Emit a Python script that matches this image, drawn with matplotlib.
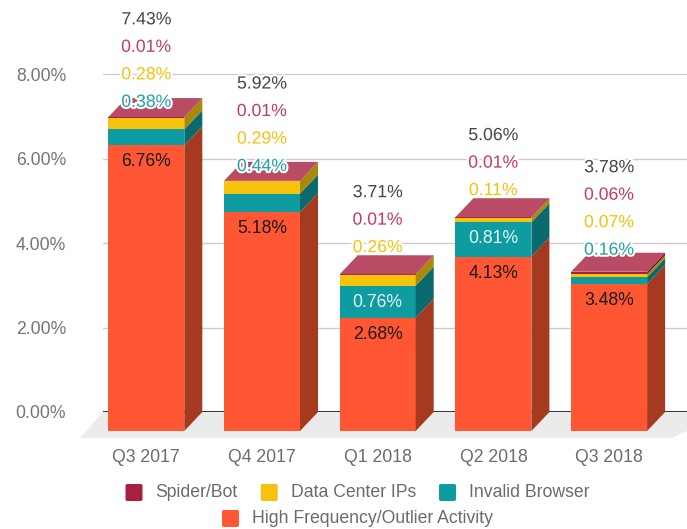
import matplotlib
matplotlib.use("Agg")
import matplotlib.pyplot as plt
from matplotlib.patches import Polygon, Rectangle, FancyBboxPatch
import matplotlib.patheffects as pe

# ---- data -------------------------------------------------------------
quarters = ["Q3 2017", "Q4 2017", "Q1 2018", "Q2 2018", "Q3 2018"]
high_frequency = [6.76, 5.18, 2.68, 4.13, 3.48]
invalid_browser = [0.38, 0.44, 0.76, 0.81, 0.16]
data_center_ips = [0.28, 0.29, 0.26, 0.11, 0.07]
spider_bot = [0.01, 0.01, 0.01, 0.01, 0.06]
totals = [7.43, 5.92, 3.71, 5.06, 3.78]
y_ticks = [0, 2, 4, 6, 8]

series_names = ["Spider/Bot", "Data Center IPs", "Invalid Browser",
                "High Frequency/Outlier Activity"]

# ---- style -----------------------------------------------------------
FONT = "Liberation Sans"
FS = 12.7
plt.rcParams["font.family"] = [FONT, "DejaVu Sans"]

# (front, side, outside-label, inside-label) colours, bottom to top of stack
stack = [
    (high_frequency, "#ff5733", "#a53a20", "#1a1a1a", "#1a1a1a"),
    (invalid_browser, "#0f9ca0", "#0b6a6d", "#1ea2a6", "#e6f4f4"),
    (data_center_ips, "#f6c40c", "#a88a06", "#f4c20d", "#1a1a1a"),
    (spider_bot, "#a91d3e", "#74142b", "#c23b5d", "#ffffff"),
]
legend_colors = ["#a91f40", "#f4c30e", "#0e9ca0", "#ff5733"]
TOP_FACE = "#b94c64"

W, H = 687, 529
fig = plt.figure(figsize=(W / 100, H / 100), dpi=100)

# plot area in pixels
left_px, right_px, top_px, zero_px = 103, 687, 70, 412
px_per_pct = 42.25
first_px, step_px = 146.3, 115.7

ax = fig.add_axes([left_px / W, (H - zero_px) / H,
                   (right_px - left_px) / W, (zero_px - top_px) / H])
ax.set_xlim((left_px - first_px) / step_px, (right_px - first_px) / step_px)
ax.set_ylim(0, (zero_px - top_px) / px_per_pct)
for s in ax.spines.values():
    s.set_visible(False)

# pixel sizes in data units, taken from the axes transform
p0 = ax.transData.transform((0, 0))
p1 = ax.transData.transform((1, 1))
sx, sy = p1[0] - p0[0], p1[1] - p0[1]

bar_w = 76 / sx
depth_x = 18 / sx
depth_y = 19 / sy

# grid and ticks
ax.set_yticks(y_ticks)
ax.set_yticklabels([f"{t:.2f}%" for t in y_ticks])
ax.tick_params(axis="y", length=0, pad=26.6, labelsize=FS, labelcolor="#757575")
for lbl in ax.get_yticklabels():
    lbl.set_fontfamily(FONT)
ax.set_xticks([])
ax.yaxis.grid(True, color="#cccccc", linewidth=1.0, zorder=0)
ax.set_axisbelow(True)

# floor
x_l = ax.get_xlim()[0]
floor_depth = 26 / sy
floor = Polygon([(x_l, 0), (x_l + 40 / sx + (right_px - left_px) / sx, 0),
                 (x_l + (672 - left_px) / sx, -floor_depth),
                 (x_l - 23 / sx, -floor_depth)],
                closed=True, facecolor="#ebebeb", edgecolor="none",
                zorder=1, clip_on=False)
ax.add_patch(floor)
ax.axhline(0, color="#333333", linewidth=1.4, zorder=1.5)

halo = [pe.withStroke(linewidth=3, foreground="white")]
inside_min = 0.6

for i in range(len(quarters)):
    x0, x1 = i - bar_w / 2, i + bar_w / 2
    cum = 0.0
    prev_out = None
    for vals, front, side, out_col, in_col in stack:
        a, b = cum, cum + vals[i]
        cum = b
        # front face
        ax.add_patch(Rectangle((x0, a - depth_y), bar_w, b - a,
                               facecolor=front, edgecolor="none",
                               zorder=3, clip_on=False))
        # right side face
        ax.add_patch(Polygon([(x1, a - depth_y), (x1 + depth_x, a),
                              (x1 + depth_x, b), (x1, b - depth_y)],
                             closed=True, facecolor=side, edgecolor="none",
                             zorder=3, clip_on=False))
        front_top = b - depth_y
        txt = f"{vals[i]:.2f}%"
        if vals[i] >= inside_min:
            ax.text(i, front_top - 16.5 / sy, txt, ha="center", va="center",
                    fontsize=FS, color=in_col, zorder=6, clip_on=False)
        else:
            y = front_top + 27 / sy
            if prev_out is not None:
                y = max(y, prev_out + 27.5 / sy)
            prev_out = y
            ax.text(i, y, txt, ha="center", va="center", fontsize=FS,
                    color=out_col, zorder=6, clip_on=False, path_effects=halo)
    # top face
    ax.add_patch(Polygon([(x0, cum - depth_y), (x1, cum - depth_y),
                          (x1 + depth_x, cum), (x0 + depth_x, cum)],
                         closed=True, facecolor=TOP_FACE, edgecolor="none",
                         zorder=3, clip_on=False))
    y = cum - depth_y + 27 / sy
    if prev_out is not None:
        y = max(y, prev_out + 27.5 / sy)
    ax.text(i, y, f"{totals[i]:.2f}%", ha="center", va="center", fontsize=FS,
            color="#454545", zorder=6, clip_on=False, path_effects=halo)

    # category label
    ax.text(i, -46 / sy, quarters[i], ha="center", va="center", fontsize=FS,
            color="#6b6b6b", clip_on=False)

# ---- legend (two centred rows) ---------------------------------------
renderer = fig.canvas.get_renderer()
rows = [[0, 1, 2], [3]]
row_y = [492.5, 518.5]
legend_cx = 357.5
sq, gap_txt, gap_item = 17, 13, 23
for row, cy in zip(rows, row_y):
    items = []
    for k in row:
        t = fig.text(0, 0, series_names[k], fontsize=FS, color="#6b6b6b",
                     va="center", ha="left")
        w = t.get_window_extent(renderer).width
        items.append((k, t, w))
    total_w = sum(sq + gap_txt + w for _, _, w in items) + gap_item * (len(items) - 1)
    x = legend_cx - total_w / 2
    for k, t, w in items:
        fig.add_artist(FancyBboxPatch((x / W, 1 - (cy + sq / 2) / H), sq / W, sq / H,
                                      boxstyle="round,pad=0,rounding_size=0.003",
                                      transform=fig.transFigure,
                                      facecolor=legend_colors[k], edgecolor="none"))
        t.set_position(((x + sq + gap_txt) / W, 1 - cy / H))
        x += sq + gap_txt + w + gap_item

fig.savefig("out.png", dpi=100)
